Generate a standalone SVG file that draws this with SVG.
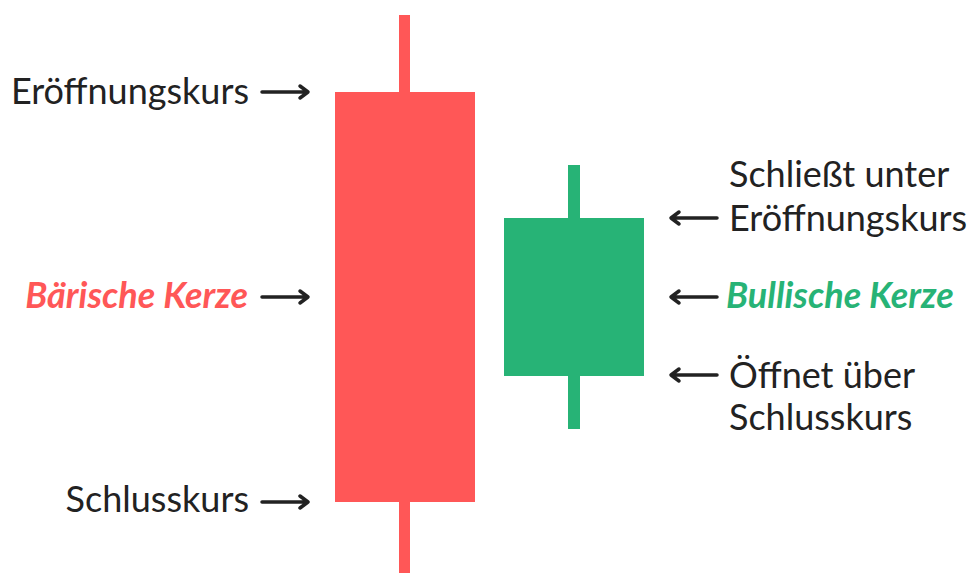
<svg xmlns="http://www.w3.org/2000/svg" width="973" height="573" viewBox="0 0 973 573">
<defs>
<style>
.lbl{font-family:Lato,"Noto Sans",sans-serif;font-size:36px;fill:#222;}
.em{font-style:italic;font-weight:bold;}
.arr{stroke:#222;stroke-width:3.5;fill:none;stroke-linecap:round;stroke-linejoin:round;}
.red{fill:#ff5757;}
.green{fill:#27b376;}
</style>
</defs>
<rect width="973" height="573" fill="#fff"/>
<g id="bear-candle">
<rect class="red" x="399" y="15" width="11" height="558"/>
<rect class="red" x="335" y="92" width="140" height="410"/>
</g>
<g id="bull-candle">
<rect class="green" x="568" y="165" width="12" height="264"/>
<rect class="green" x="504" y="218" width="140" height="158"/>
</g>
<g id="connectors">
<path class="arr" d="M262 92H308M300 86L308 92L300 98"/>
<path class="arr" d="M262 297H308M300 291L308 297L300 303"/>
<path class="arr" d="M262 502H308M300 496L308 502L300 508"/>
<path class="arr" d="M717 218H671M679 212L671 218L679 224"/>
<path class="arr" d="M717 297H671M679 291L671 297L679 303"/>
<path class="arr" d="M717 375H671M679 369L671 375L679 381"/>
</g>
<g id="label-open">
<text class="lbl" x="249" y="104" text-anchor="end">Eröffnungskurs</text>
</g>
<g id="label-bear">
<text class="lbl em" x="248" y="308" text-anchor="end" style="fill:#ff5757">Bärische Kerze</text>
</g>
<g id="label-close">
<text class="lbl" x="249" y="512" text-anchor="end">Schlusskurs</text>
</g>
<g id="label-bull-close">
<text class="lbl" x="729" y="187">Schließt unter</text>
<text class="lbl" x="729" y="231">Eröffnungskurs</text>
</g>
<g id="label-bull">
<text class="lbl em" x="726" y="308" style="fill:#27b376">Bullische Kerze</text>
</g>
<g id="label-bull-open">
<text class="lbl" x="729" y="388">Öffnet über</text>
<text class="lbl" x="729" y="430">Schlusskurs</text>
</g>
</svg>
